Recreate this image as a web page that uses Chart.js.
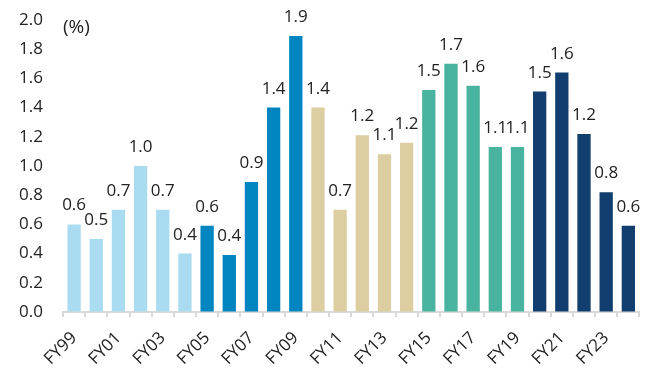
<!DOCTYPE html>
<html>
<head>
<meta charset="utf-8">
<script src="https://cdn.jsdelivr.net/npm/chart.js@4/dist/chart.umd.min.js"></script>
<style>
  html, body { margin: 0; padding: 0; background: #fff; }
  #wrap { width: 654px; height: 369px; position: relative; }
</style>
</head>
<body>
<div id="wrap"><canvas id="chart"></canvas></div>
<script>
const years = ["FY99", "FY00", "FY01", "FY02", "FY03", "FY04", "FY05", "FY06", "FY07", "FY08",
  "FY09", "FY10", "FY11", "FY12", "FY13", "FY14", "FY15", "FY16", "FY17", "FY18",
  "FY19", "FY20", "FY21", "FY22", "FY23", "FY24"];
const rates = [0.6, 0.5, 0.7, 1.0, 0.7, 0.4, 0.59, 0.39, 0.89, 1.4,
  1.89, 1.4, 0.7, 1.21, 1.08, 1.16, 1.52, 1.7, 1.55, 1.13,
  1.13, 1.51, 1.64, 1.22, 0.82, 0.59];
// period each year belongs to (drives bar colour)
const periods = [0, 0, 0, 0, 0, 0, 1, 1, 1, 1, 1, 2, 2, 2, 2, 2, 3, 3, 3, 3, 3, 4, 4, 4, 4, 4];
const periodColors = ["#a9dcf0", "#0085c0", "#dccea0", "#48b39e", "#113e6e"];
const yTicks = [0, 0.2, 0.4, 0.6, 0.8, 1.0, 1.2, 1.4, 1.6, 1.8, 2.0];

const FONT = "'Open Sans', 'Noto Sans', sans-serif";
const TEXT = "#222";

// value labels above each bar, plus the unit note in the corner
const valueLabels = {
  id: "valueLabels",
  afterDatasetsDraw(chart) {
    const ctx = chart.ctx;
    const meta = chart.getDatasetMeta(0);
    ctx.save();
    ctx.font = "17px " + FONT;
    ctx.fillStyle = TEXT;
    ctx.textAlign = "center";
    ctx.textBaseline = "alphabetic";
    meta.data.forEach((bar, i) => {
      ctx.fillText(rates[i].toFixed(1), bar.x, bar.y - 14);
    });
    ctx.textAlign = "left";
    ctx.font = "19px " + FONT;
    ctx.fillText("(%)", chart.chartArea.left, 33);
    ctx.restore();
  }
};

new Chart(document.getElementById("chart"), {
  type: "bar",
  data: {
    labels: years,
    datasets: [{
      data: rates,
      backgroundColor: periods.map(p => periodColors[p]),
      barPercentage: 0.6,
      categoryPercentage: 1.0
    }]
  },
  options: {
    responsive: true,
    maintainAspectRatio: false,
    animation: false,
    layout: { padding: { top: 20, right: 12, left: 0, bottom: 0 } },
    plugins: { legend: { display: false }, tooltip: { enabled: false } },
    scales: {
      x: {
        grid: {
          display: true,
          drawOnChartArea: false,
          tickLength: 5,
          color: "#d9d9d9",
          lineWidth: 2
        },
        border: { display: true, color: "#d9d9d9", width: 2 },
        ticks: {
          autoSkip: false,
          maxRotation: 45,
          minRotation: 45,
          padding: 11,
          color: TEXT,
          font: { family: FONT, size: 17 },
          callback: (v, i) => (i % 2 === 0 ? years[i] : "")
        },
        afterFit: (scale) => { scale.height = 57; }
      },
      y: {
        min: 0,
        max: 2.0,
        // invisible tick marks keep the labels clear of the bars
        grid: { display: true, drawOnChartArea: false, drawTicks: true, tickLength: 18, color: "rgba(0,0,0,0)" },
        border: { display: false },
        afterBuildTicks: (scale) => { scale.ticks = yTicks.map(v => ({ value: v })); },
        ticks: {
          padding: 2,
          color: TEXT,
          font: { family: FONT, size: 17 },
          callback: (v) => v.toFixed(1)
        },
        afterFit: (scale) => { scale.width = 63; }
      }
    }
  },
  plugins: [valueLabels]
});
</script>
</body>
</html>
